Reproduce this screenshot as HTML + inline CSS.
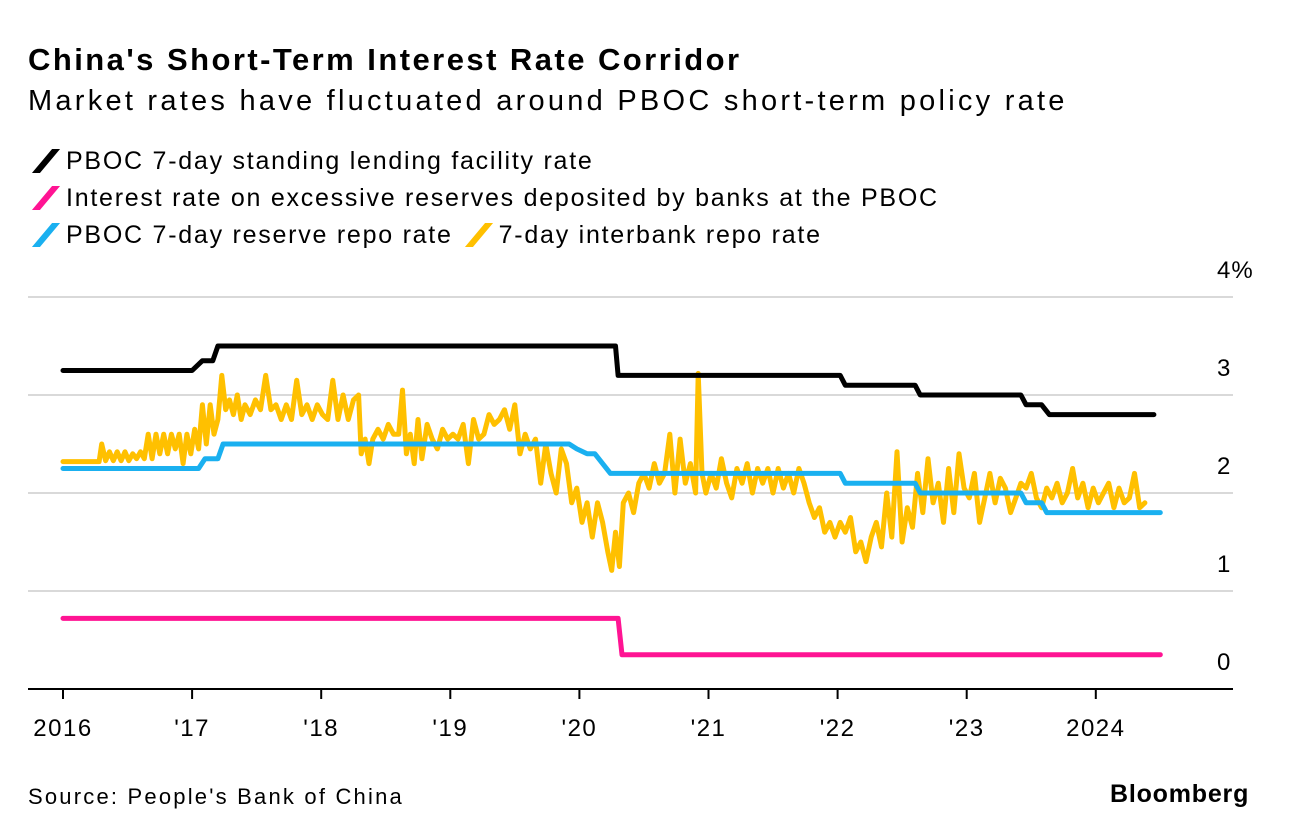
<!DOCTYPE html>
<html><head><meta charset="utf-8">
<style>
body{margin:0;background:#fff;font-family:"Liberation Sans",Arial,sans-serif;color:#000}
#wrap{position:relative;width:1289px;height:838px;overflow:hidden}
.t{position:absolute;white-space:nowrap}
.ic{display:inline-block;width:8px;height:24px;transform:skewX(-40deg);vertical-align:-4px;margin:0 16px 0 14px}
</style></head><body>
<div id="wrap">
<div class="t" style="left:28px;top:42px;font-size:31px;font-weight:bold;letter-spacing:2.45px">China's Short-Term Interest Rate Corridor</div>
<div class="t" style="left:28px;top:85px;font-size:29px;letter-spacing:3.25px">Market rates have fluctuated around PBOC short-term policy rate</div>
<div class="t" style="left:28px;top:147px;font-size:25px;letter-spacing:1.75px"><span class="ic" style="background:#000"></span>PBOC 7-day standing lending facility rate</div>
<div class="t" style="left:28px;top:184px;font-size:25px;letter-spacing:1.75px"><span class="ic" style="background:#ff1493"></span>Interest rate on excessive reserves deposited by banks at the PBOC</div>
<div class="t" style="left:28px;top:221px;font-size:25px;letter-spacing:1.75px"><span class="ic" style="background:#1ab0f0"></span>PBOC 7-day reserve repo rate<span class="ic" style="background:#ffc000;margin-left:22px"></span>7-day interbank repo rate</div>
<svg id="chart" width="1289" height="838" style="position:absolute;left:0;top:0"></svg>
<div class="t" style="left:28px;top:784px;font-size:22px;letter-spacing:2.2px">Source: People's Bank of China</div>
<div class="t" style="left:1110px;top:780px;font-size:25px;font-weight:bold;letter-spacing:0.8px">Bloomberg</div>
</div>
<script>
const yTicks=[0,1,2,3,4];
const yTickLabels=["0","1","2","3","4%"];
const xTicks=[2016,2017,2018,2019,2020,2021,2022,2023,2024];
const xTickLabels=["2016","'17","'18","'19","'20","'21","'22","'23","2024"];
const slfDates=[2016,2017.0,2017.08,2017.16,2017.2,2020.28,2020.3,2022.02,2022.06,2022.6,2022.64,2023.42,2023.46,2023.58,2023.64,2024.45];
const slfVals=[3.25,3.25,3.35,3.35,3.5,3.5,3.2,3.2,3.1,3.1,3.0,3.0,2.9,2.9,2.8,2.8];
const ioerDates=[2016,2020.3,2020.33,2024.5];
const ioerVals=[0.72,0.72,0.35,0.35];
const rrDates=[2016,2017.05,2017.1,2017.2,2017.24,2019.92,2019.98,2020.06,2020.12,2020.24,2022.02,2022.06,2022.6,2022.64,2023.42,2023.46,2023.58,2023.62,2024.5];
const rrVals=[2.25,2.25,2.35,2.35,2.5,2.5,2.45,2.4,2.4,2.2,2.2,2.1,2.1,2.0,2.0,1.9,1.9,1.8,1.8];
const ibDates=[2016,2016.28,2016.3,2016.33,2016.36,2016.39,2016.42,2016.45,2016.48,2016.51,2016.54,2016.57,2016.6,2016.63,2016.66,2016.69,2016.72,2016.75,2016.78,2016.81,2016.84,2016.87,2016.9,2016.93,2016.96,2016.99,2017.02,2017.05,2017.08,2017.11,2017.14,2017.17,2017.2,2017.23,2017.26,2017.29,2017.32,2017.35,2017.38,2017.41,2017.45,2017.49,2017.53,2017.57,2017.61,2017.65,2017.69,2017.73,2017.77,2017.81,2017.85,2017.89,2017.93,2017.97,2018.01,2018.05,2018.09,2018.13,2018.17,2018.21,2018.25,2018.29,2018.31,2018.34,2018.37,2018.4,2018.44,2018.48,2018.52,2018.56,2018.6,2018.63,2018.66,2018.69,2018.72,2018.75,2018.78,2018.82,2018.86,2018.9,2018.94,2018.98,2019.02,2019.06,2019.1,2019.14,2019.18,2019.22,2019.26,2019.3,2019.34,2019.38,2019.42,2019.46,2019.5,2019.54,2019.58,2019.62,2019.66,2019.7,2019.74,2019.78,2019.82,2019.86,2019.9,2019.94,2019.98,2020.02,2020.06,2020.1,2020.14,2020.18,2020.22,2020.25,2020.28,2020.31,2020.34,2020.38,2020.42,2020.46,2020.5,2020.54,2020.58,2020.62,2020.66,2020.7,2020.74,2020.78,2020.82,2020.86,2020.9,2020.92,2020.95,2020.98,2021.02,2021.06,2021.1,2021.14,2021.18,2021.22,2021.26,2021.3,2021.34,2021.38,2021.42,2021.46,2021.5,2021.54,2021.58,2021.62,2021.66,2021.7,2021.74,2021.78,2021.82,2021.86,2021.9,2021.94,2021.98,2022.02,2022.06,2022.1,2022.14,2022.18,2022.22,2022.26,2022.3,2022.34,2022.38,2022.42,2022.46,2022.5,2022.54,2022.58,2022.62,2022.66,2022.7,2022.74,2022.78,2022.82,2022.86,2022.9,2022.94,2022.98,2023.02,2023.06,2023.1,2023.14,2023.18,2023.22,2023.26,2023.3,2023.34,2023.38,2023.42,2023.46,2023.5,2023.54,2023.58,2023.62,2023.66,2023.7,2023.74,2023.78,2023.82,2023.86,2023.9,2023.94,2023.98,2024.02,2024.06,2024.1,2024.14,2024.18,2024.22,2024.26,2024.3,2024.34,2024.38,2024.42,2024.46,2024.5];
const ibVals=[2.32,2.32,2.5,2.33,2.42,2.33,2.42,2.33,2.42,2.33,2.4,2.35,2.42,2.35,2.6,2.35,2.6,2.4,2.6,2.4,2.6,2.45,2.6,2.3,2.6,2.4,2.65,2.45,2.9,2.5,2.9,2.6,2.75,3.2,2.85,2.95,2.8,3.0,2.75,2.9,2.8,2.95,2.85,3.2,2.85,2.9,2.75,2.9,2.75,3.15,2.8,2.9,2.75,2.9,2.8,2.75,3.15,2.75,3.0,2.75,2.95,3.0,2.4,2.55,2.3,2.55,2.65,2.55,2.7,2.6,2.6,3.05,2.4,2.6,2.3,2.75,2.35,2.7,2.55,2.45,2.65,2.55,2.6,2.55,2.7,2.3,2.75,2.55,2.6,2.8,2.7,2.75,2.85,2.65,2.9,2.4,2.6,2.45,2.55,2.1,2.5,2.2,2.0,2.45,2.3,1.9,2.05,1.7,1.9,1.55,1.9,1.7,1.4,1.21,1.6,1.25,1.9,2.0,1.8,2.1,2.2,2.05,2.3,2.1,2.2,2.6,2.0,2.55,2.1,2.3,2.0,3.22,2.2,2.0,2.2,2.05,2.35,2.1,1.95,2.25,2.1,2.3,2.0,2.25,2.1,2.25,2.0,2.25,2.05,2.2,2.0,2.25,2.1,1.9,1.75,1.85,1.6,1.7,1.55,1.7,1.6,1.75,1.4,1.5,1.3,1.55,1.7,1.45,2.0,1.55,2.42,1.5,1.85,1.65,2.2,1.8,2.35,1.9,2.1,1.7,2.25,1.8,2.4,2.05,1.95,2.2,1.7,1.95,2.2,1.9,2.15,2.05,1.8,1.95,2.1,2.05,2.2,1.95,1.85,2.05,1.95,2.1,1.9,2.0,2.25,1.95,2.1,1.85,2.05,1.9,2.0,2.1,1.85,2.05,1.9,1.95,2.2,1.85,1.9];
const svg=document.getElementById('chart');
const NS='http://www.w3.org/2000/svg';
function X(yr){return 63+(yr-2016)*129.1;}
function Y(v){return 689-v*98;}
function mk(tag,attrs){const e=document.createElementNS(NS,tag);for(const k in attrs)e.setAttribute(k,attrs[k]);svg.appendChild(e);return e;}
yTicks.forEach((v,i)=>{
  if(v>0){const g=mk('line',{x1:28,x2:1233,y1:Y(v),y2:Y(v),stroke:'#d9d9d9','stroke-width':2});
  
  }
  const t=mk('text',{x:1217,y:Y(v)-19,'text-anchor':'start','font-size':24,'font-family':'Liberation Sans, sans-serif','letter-spacing':1});
  t.textContent=yTickLabels[i];
  
  
});
const ax=mk('line',{x1:28,x2:1233,y1:Y(0),y2:Y(0),stroke:'#000','stroke-width':2});


xTicks.forEach((yr,i)=>{
  const tk=mk('line',{x1:X(yr),x2:X(yr),y1:Y(0),y2:Y(0)+10,stroke:'#000','stroke-width':2});
  
  
  const t=mk('text',{x:X(yr),y:736,'text-anchor':'middle','font-size':24,'font-family':'Liberation Sans, sans-serif','letter-spacing':1.5});
  t.textContent=xTickLabels[i];
  
  
});
function line(d,v,color,name,w){
  const p=d.map((yr,i)=>X(yr).toFixed(1)+','+Y(v[i]).toFixed(1)).join(' ');
  const e=mk('polyline',{points:p,fill:'none',stroke:color,'stroke-width':w,'stroke-linejoin':'round','stroke-linecap':'round'});
  
  
}
line(ibDates,ibVals,'#ffc000','interbank-repo-line',5);
line(rrDates,rrVals,'#1ab0f0','reverse-repo-line',5);
line(slfDates,slfVals,'#000','slf-rate-line',5);
line(ioerDates,ioerVals,'#ff1493','ioer-line',5);
</script>
</body></html>
